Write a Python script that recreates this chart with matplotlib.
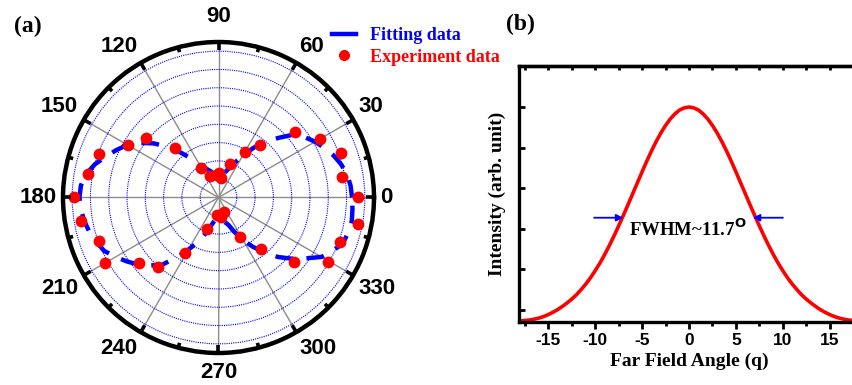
import numpy as np
import matplotlib
matplotlib.use("Agg")
import matplotlib.pyplot as plt
from matplotlib.lines import Line2D

# ---------------- data ----------------
# (a) polar: experiment points (angle in degrees, radius)
exp_angle = [0, 9.6, 19.9, 30.1, 40.6, 51.5, 60, 70.7, 82, 88, 93, 111, 121, 131,
             140.3, 150, 159.9, 169.9, 180, 189.7, 200, 209.8, 219.5, 229, 239,
             250, 265.7, 277.6, 289.6, 299, 309.4, 319.6, 329.7, 339.8, 349.2]
exp_r = [7.6, 6.85, 7.1, 6.4, 5.5, 3.65, 2.9, 1.93, 1.05, 1.36, 1.24, 1.27, 1.85, 3.6,
         5.13, 5.71, 6.97, 7.24, 7.9, 7.65, 6.96, 7.17, 5.66, 5.03, 3.52,
         1.85, 0.97, 1.1, 0.87, 2.45, 3.67, 5.42, 6.95, 7.1, 7.76]

# fitting curve (angle in degrees, radius)
fit_angle = list(range(0, 365, 5))
fit_r = [7.3, 7.25, 7.15, 6.95, 6.7, 6.4, 6.1, 5.75, 5.35, 4.6, 4.0, 3.3, 2.6, 2.1,
         1.7, 1.45, 1.3, 1.2, 1.15, 1.2, 1.3, 1.45, 1.6, 1.8, 2.0, 2.6, 3.2, 3.9,
         4.6, 5.2, 5.75, 6.15, 6.55, 7.0, 7.35, 7.55, 7.6, 7.55, 7.45, 7.3, 7.1,
         6.9, 6.5, 6.1, 5.7, 5.25, 4.8, 4.0, 3.3, 2.7, 2.1, 1.6, 1.3, 1.15, 1.1,
         1.15, 1.25, 1.4, 1.6, 2.1, 2.7, 3.3, 3.9, 4.6, 5.2, 5.8, 6.5, 6.9, 7.25,
         7.35, 7.4, 7.35, 7.3]

theta_labels = ["0", "30", "60", "90", "120", "150", "180", "210", "240", "270", "300", "330"]

# (b) far-field profile (read every 0.5 degree)
ff_angle = [v / 2 for v in range(-36, 37)]
ff_half = [1.0, 0.996, 0.986, 0.968, 0.944, 0.914, 0.879, 0.839, 0.795, 0.748,
           0.698, 0.647, 0.596, 0.545, 0.495, 0.446, 0.399, 0.354, 0.312, 0.273,
           0.238, 0.205, 0.176, 0.150, 0.126, 0.106, 0.088, 0.072, 0.057, 0.045,
           0.034, 0.025, 0.018, 0.013, 0.009, 0.007, 0.005]
ff_int = ff_half[:0:-1] + ff_half
x_ticks = [-15, -10, -5, 0, 5, 10, 15]
y_ticks = [0.056, 0.245, 0.434, 0.623, 0.811, 1.0]
fwhm_text = "FWHM~11.7$^{\\mathbf{O}}$"

# ---------------- figure ----------------
W, H = 852, 385
fig = plt.figure(figsize=(W / 100, H / 100), dpi=100)

serif_bold = dict(family="Liberation Serif", weight="bold")
sans_bold = dict(family="Liberation Sans", weight="bold")

# ---- (a) polar ----
cx, cy, R = 218.5, 197.5, 155.5
ax = fig.add_axes([(cx - R) / W, (H - cy - R) / H, 2 * R / W, 2 * R / H], projection="polar")
rmax = 8.5
ax.set_rlim(0, rmax)
ax.set_rticks(np.arange(1, 9))
ax.set_yticklabels([])
ax.yaxis.grid(True, color="blue", linestyle=(0, (1, 1)), linewidth=0.8)
ax.set_xticks(np.deg2rad(np.arange(0, 360, 30)))
ax.set_xticklabels([])
ax.xaxis.grid(True, which="major", color="#8c8c8c", linewidth=1.0, linestyle="-")
ax.tick_params(axis="x", length=0)
ax.spines["polar"].set_linewidth(3.2)
ax.spines["polar"].set_color("black")

px = rmax / R  # data units per pixel
for ang in range(0, 360, 15):
    ln = 8 if ang % 30 == 0 else 5
    ax.plot([np.deg2rad(ang)] * 2, [rmax - ln * px, rmax], color="black",
            linewidth=2.6, solid_capstyle="butt", clip_on=False, zorder=5)

ax.plot(np.deg2rad(fit_angle), fit_r, color="blue", linewidth=3.2, dashes=(4, 3),
        solid_capstyle="butt", zorder=3)
ax.plot(np.deg2rad(exp_angle), exp_r, linestyle="none", marker="o", markersize=8.5,
        color="red", markeredgewidth=0, zorder=4)

for ang, lab in zip(range(0, 360, 30), theta_labels):
    c, s = np.cos(np.deg2rad(ang)), np.sin(np.deg2rad(ang))
    ha = "left" if c > 0.3 else ("right" if c < -0.3 else "center")
    va = "bottom" if s > 0.3 else ("top" if s < -0.3 else "center")
    if s > 0.99:
        dist = 170
    elif s < -0.99:
        dist = 165
    else:
        dist = 162
    ax.text(np.deg2rad(ang), dist * px, lab, ha=ha, va=va, fontsize=16,
            clip_on=False, **sans_bold)

handles = [Line2D([], [], color="blue", linewidth=3.2),
           Line2D([], [], color="red", marker="o", linestyle="none", markersize=8, markeredgewidth=0)]
leg = fig.legend(handles, ["Fitting data", "Experiment data"], loc="upper left",
                 bbox_to_anchor=(323 / W, 1 - 18 / H), frameon=False, borderpad=0,
                 handlelength=1.3, handletextpad=0.8, labelspacing=0.25,
                 prop=dict(family="Liberation Serif", weight="bold", size=13))
for t, c in zip(leg.get_texts(), ["blue", "red"]):
    t.set_color(c)

fig.text(28 / W, 1 - 26 / H, "(a)", ha="center", va="center", fontsize=17, **serif_bold)
fig.text(520 / W, 1 - 24 / H, "(b)", ha="center", va="center", fontsize=17, **serif_bold)

# ---- (b) far field ----
L, Rr, T, B = 519, 859, 66, 322
bx = fig.add_axes([L / W, (H - B) / H, (Rr - L) / W, (B - T) / H])
bx.plot(ff_angle, ff_int, color="red", linewidth=2.6)
bx.set_xlim(-18.1, 18.1)
bx.set_ylim(0, (B - T) / (B - 107))
bx.set_xticks(x_ticks)
bx.set_xticklabels([str(v) for v in x_ticks])
bx.set_xticks(np.arange(-17.5, 18, 5), minor=True)
bx.set_yticks(y_ticks)
bx.set_yticklabels([])
for s in bx.spines.values():
    s.set_linewidth(2.4)
bx.tick_params(axis="x", which="major", direction="out", length=5, width=2, labelsize=12.5, pad=3)
bx.tick_params(axis="x", which="minor", direction="out", length=3, width=2)
bx.tick_params(axis="y", which="major", direction="in", length=4, width=2)
for lab in bx.get_xticklabels():
    lab.set_fontfamily("Liberation Sans")
    lab.set_fontweight("bold")

top = bx.secondary_xaxis("top")
top.set_xticks(x_ticks)
top.set_xticks(np.arange(-17.5, 18, 5), minor=True)
top.set_xticklabels([])
top.tick_params(axis="x", which="both", direction="in", length=3, width=2)
top.spines["top"].set_linewidth(2.4)

bx.set_xlabel("Far Field Angle (q)", fontsize=14, labelpad=3, **serif_bold)
bx.set_ylabel("Intensity (arb. unit)", fontsize=14, labelpad=6, **serif_bold)

ya = 0.485
bx.annotate("", xy=(-7.0, ya), xytext=(-10.1, ya),
            arrowprops=dict(arrowstyle="-|>", color="blue", lw=1.3, mutation_scale=10, shrinkA=0, shrinkB=0))
bx.annotate("", xy=(6.8, ya), xytext=(10.0, ya),
            arrowprops=dict(arrowstyle="-|>", color="blue", lw=1.3, mutation_scale=10, shrinkA=0, shrinkB=0))
bx.text(-6.4, 0.43, fwhm_text, ha="left", va="center", fontsize=13.5, **serif_bold)

fig.savefig("out.png", dpi=100)
